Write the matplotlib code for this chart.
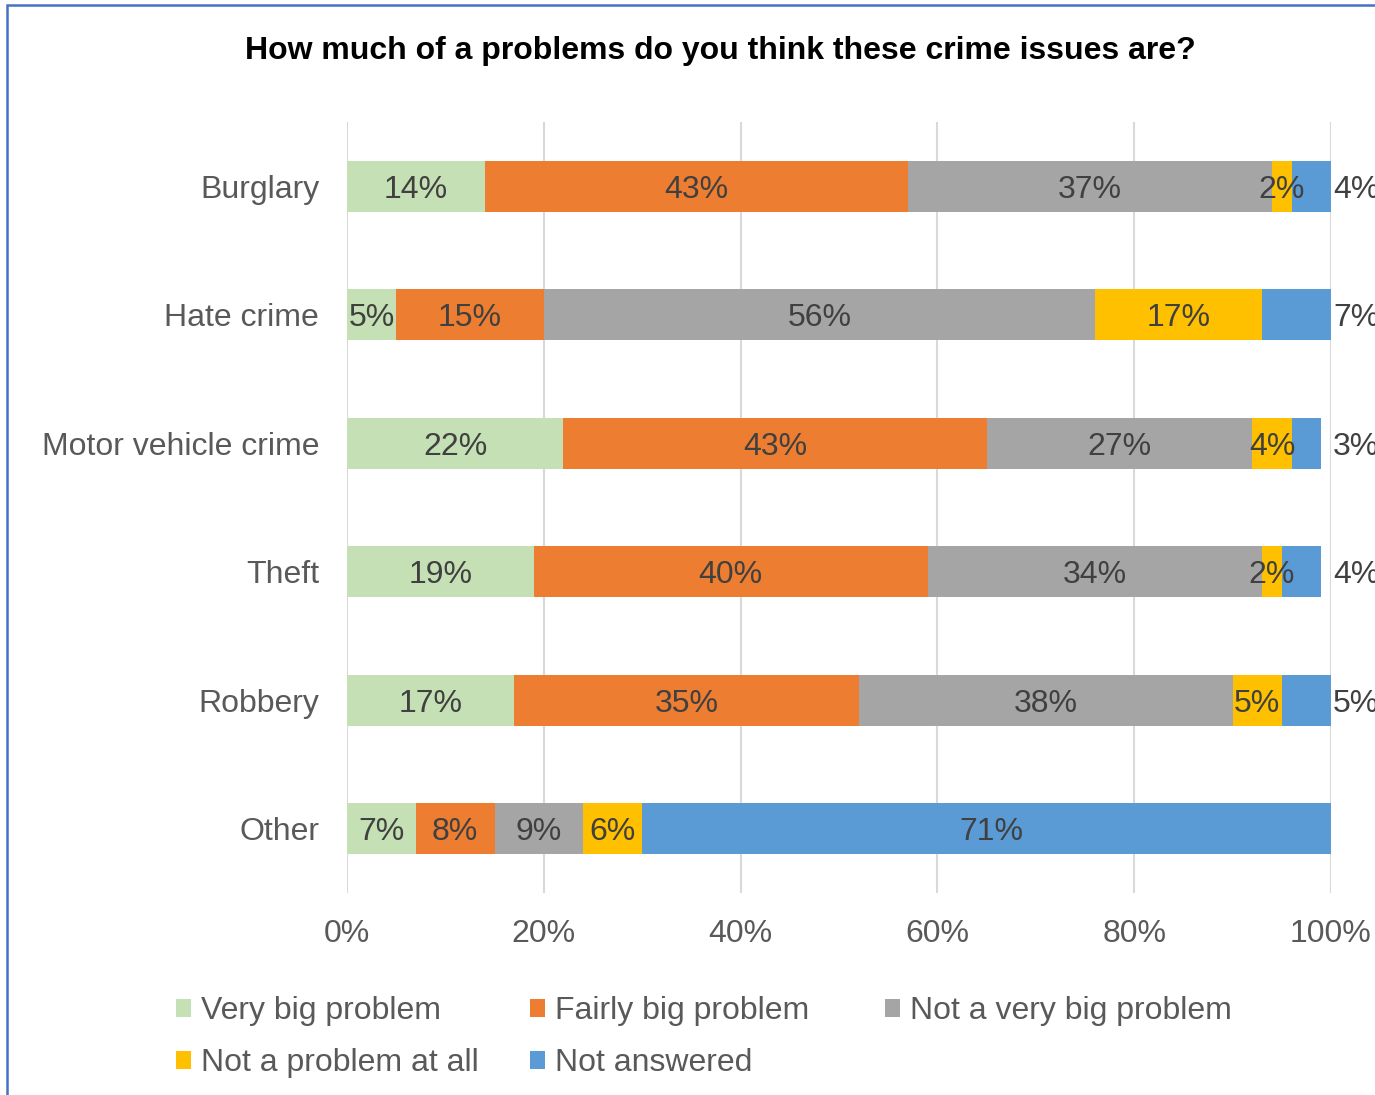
import matplotlib
matplotlib.use("Agg")
import matplotlib.pyplot as plt
from matplotlib.patches import Rectangle, Patch

plt.rcParams['font.family'] = ['Liberation Sans', 'DejaVu Sans']

categories = ["Burglary", "Hate crime", "Motor vehicle crime", "Theft", "Robbery", "Other"]
series_names = ["Very big problem", "Fairly big problem", "Not a very big problem",
                "Not a problem at all", "Not answered"]
very_big = [14, 5, 22, 19, 17, 7]
fairly_big = [43, 15, 43, 40, 35, 8]
not_very_big = [37, 56, 27, 34, 38, 9]
not_at_all = [2, 17, 4, 2, 5, 6]
not_answered = [4, 7, 3, 4, 5, 71]
x_ticks = [0, 20, 40, 60, 80, 100]
x_tick_labels = ["0%", "20%", "40%", "60%", "80%", "100%"]

colors = ["#C5E0B4", "#ED7D31", "#A5A5A5", "#FFC000", "#5B9BD5"]
text_col = "#404040"
tick_col = "#595959"
fs = 23

fig = plt.figure(figsize=(13.75, 10.95), dpi=100)
ax = fig.add_axes([347/1375, 1 - 893/1095, 984/1375, (893 - 122)/1095])

series = [very_big, fairly_big, not_very_big, not_at_all, not_answered]
ypos = list(range(len(categories)))
left = [0] * len(categories)
handles = []
for si, (vals, col, name) in enumerate(zip(series, colors, series_names)):
    ax.barh(ypos, vals, left=left, height=0.4, color=col, label=name, zorder=3)
    handles.append(Patch(facecolor=col, label=name))
    for i, (v, l) in enumerate(zip(vals, left)):
        if si == len(series) - 1 and categories[i] != "Other":
            # small end segments get their label just past the 100% line
            ax.text(100.2, i, f"{v}%", ha="left", va="center_baseline", fontsize=fs,
                    color=text_col, clip_on=False)
        else:
            ax.text(l + v / 2, i, f"{v}%", ha="center", va="center_baseline", fontsize=fs,
                    color=text_col, zorder=4)
    left = [a + b for a, b in zip(left, vals)]

ax.set_xlim(0, 100)
ax.set_ylim(len(categories) - 0.5, -0.5)
ax.set_xticks(x_ticks)
ax.set_xticklabels(x_tick_labels, fontsize=fs, color=tick_col)
ax.set_yticks(ypos)
ax.set_yticklabels(categories, fontsize=fs, color=tick_col)
ax.tick_params(axis="both", length=0)
ax.tick_params(axis="x", pad=19)
ax.tick_params(axis="y", pad=20)
ax.grid(axis="x", color="#D9D9D9", linewidth=1.5, zorder=0)
ax.set_axisbelow(True)
for s in ax.spines.values():
    s.set_visible(False)

fig.text(720/1375, 1 - 51/1095, "How much of a problems do you think these crime issues are?",
         ha="center", va="center", fontsize=fs, fontweight="bold", color="black")

# legend entries laid out in two rows
legend_pos = [(176, 1011), (530, 1011), (885, 1011), (176, 1063), (530, 1063)]
for h, (px, py) in zip(handles, legend_pos):
    fig.legend(handles=[h], loc="center left", bbox_to_anchor=(px/1375, 1 - py/1095),
               frameon=False, fontsize=fs, handlelength=0.48, handleheight=0.48,
               handletextpad=0.3, borderpad=0, borderaxespad=0, labelcolor=tick_col)

# chart frame
fig.add_artist(Rectangle((7/1375, -0.05), 1.2, 1 - 5/1095 + 0.05, transform=fig.transFigure,
                         fill=False, edgecolor="#4472C4", linewidth=1.8, clip_on=False))

fig.savefig("out.png", dpi=100)
